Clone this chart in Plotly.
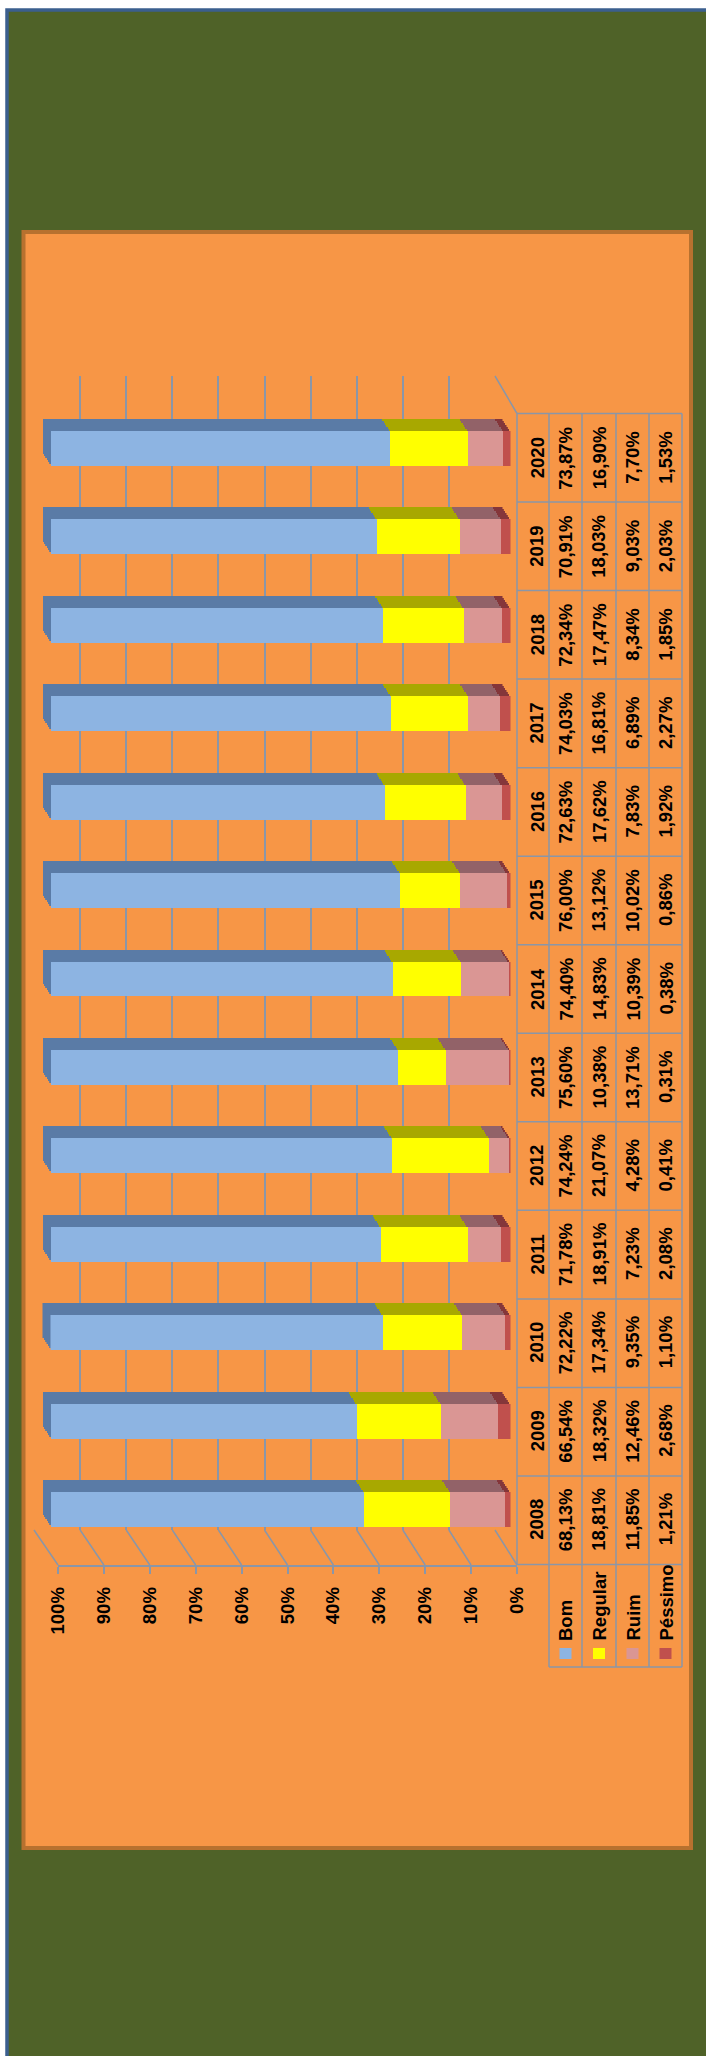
import plotly.graph_objects as go

# ---------------- data ----------------
years = ['2008', '2009', '2010', '2011', '2012', '2013', '2014',
         '2015', '2016', '2017', '2018', '2019', '2020']
bom = [68.13, 66.54, 72.22, 71.78, 74.24, 75.60, 74.40, 76.00, 72.63, 74.03, 72.34, 70.91, 73.87]
regular = [18.81, 18.32, 17.34, 18.91, 21.07, 10.38, 14.83, 13.12, 17.62, 16.81, 17.47, 18.03, 16.90]
ruim = [11.85, 12.46, 9.35, 7.23, 4.28, 13.71, 10.39, 10.02, 7.83, 6.89, 8.34, 9.03, 7.70]
pessimo = [1.21, 2.68, 1.10, 2.08, 0.41, 0.31, 0.38, 0.86, 1.92, 2.27, 1.85, 2.03, 1.53]
series_names = ['Bom', 'Regular', 'Ruim', 'Péssimo']
pct_ticks = [0, 10, 20, 30, 40, 50, 60, 70, 80, 90, 100]
pct_labels = ['0%', '10%', '20%', '30%', '40%', '50%', '60%', '70%', '80%', '90%', '100%']

series_vals = [bom, regular, ruim, pessimo]
front_colors = ['#8DB4E2', '#FFFF00', '#DA9694', '#C0504D']
top_colors = ['#5A7BA6', '#A8A800', '#926268', '#84363A']

# ---------------- geometry (pixels) ----------------
W, H = 706, 2056
LINE = '#8A96A8'
FONT = dict(family='Liberation Sans, Arial, sans-serif', size=18.5, color='black', weight='bold')


def fx(px):
    return px / W


def fy(py):
    return 1 - py / H


def dom_x(a, b):
    return [fx(a), fx(b)]


def dom_y(top, bottom):
    return [fy(bottom), fy(top)]


FRONT_X = (50.5, 510.5)
FRONT_Y = (404, 1554)
DEPTH_DX, DEPTH_DY = -8, -12
NLAYERS = 6
BACK_X = (34, 495)
BACK_Y = (376, 1530)
FLOOR_X = (58, 517)
FLOOR_Y = 1565
TABLE_TOP, TABLE_BOT = 413.5, 1564.5
COLS = [517, 549, 582, 616, 649, 682]
LEGEND_BOT = 1667

fig = go.Figure()
layout_axes = {}

# back wall gridlines (axis 1)
fig.add_trace(go.Scatter(x=[0, 100], y=[0, 1], mode='markers', marker=dict(opacity=0),
                         hoverinfo='skip', showlegend=False, xaxis='x', yaxis='y'))
layout_axes['xaxis'] = dict(domain=dom_x(*BACK_X), range=[100, 0], showgrid=True, gridcolor=LINE,
                            gridwidth=1.5, tickvals=pct_ticks, showticklabels=False, zeroline=False,
                            showline=False, ticks='', anchor='y')
layout_axes['yaxis'] = dict(domain=dom_y(*BACK_Y), range=[0, 1], showgrid=False, showticklabels=False,
                            zeroline=False, showline=False, anchor='x')

# depth layers (axes 2..7, deepest first), front face (axis 8)
ax_id = 2
for k in list(range(NLAYERS, 0, -1)) + [0]:
    t = k / NLAYERS
    dx, dy = DEPTH_DX * t, DEPTH_DY * t
    colors = front_colors if k == 0 else top_colors
    xa, ya = f'x{ax_id}', f'y{ax_id}'
    for name, vals, col in zip(series_names[::-1], series_vals[::-1], colors[::-1]):
        fig.add_trace(go.Bar(x=vals, y=years, orientation='h', name=name,
                             marker=dict(color=col, line=dict(width=0)),
                             xaxis=xa, yaxis=ya, showlegend=False, hoverinfo='skip'))
    layout_axes[f'xaxis{ax_id}'] = dict(domain=dom_x(FRONT_X[0] + dx, FRONT_X[1] + dx), range=[100, 0],
                                        visible=False, anchor=ya)
    layout_axes[f'yaxis{ax_id}'] = dict(domain=dom_y(FRONT_Y[0] + dy, FRONT_Y[1] + dy), type='category',
                                        categoryorder='array', categoryarray=years, range=[-0.5, 12.5],
                                        visible=False, anchor=xa)
    ax_id += 1
FRONT_AX = ax_id - 1  # 8

# floor axis with tick labels (axis 9)
fig.add_trace(go.Scatter(x=[0, 100], y=[0, 1], mode='markers', marker=dict(opacity=0),
                         hoverinfo='skip', showlegend=False, xaxis='x9', yaxis='y9'))
layout_axes['xaxis9'] = dict(domain=dom_x(*FLOOR_X), range=[100, 0], anchor='y9', side='bottom',
                             showline=True, linecolor=LINE, linewidth=1.5, ticks='outside', ticklen=7,
                             tickwidth=1.5, tickcolor=LINE, tickvals=pct_ticks, ticktext=pct_labels,
                             tickangle=-90, tickfont=FONT, showgrid=False, zeroline=False,
                             ticklabelstandoff=6, automargin=False)
layout_axes['yaxis9'] = dict(domain=dom_y(FLOOR_Y - 20, FLOOR_Y), range=[0, 1], visible=False, anchor='x9')

# ---------------- shapes ----------------
shapes = []


def line(x0, y0, x1, y1, color=LINE, width=1.5):
    shapes.append(dict(type='line', xref='paper', yref='paper', x0=fx(x0), y0=fy(y0), x1=fx(x1), y1=fy(y1),
                       line=dict(color=color, width=width), layer='below'))


# page background and chart area
shapes.append(dict(type='rect', xref='paper', yref='paper', x0=fx(7), y0=fy(10), x1=fx(W + 10), y1=fy(H + 10),
                   fillcolor='#4F6228', line=dict(color='#3B5F8E', width=3.5), layer='below'))
shapes.append(dict(type='rect', xref='paper', yref='paper', x0=fx(23.5), y0=fy(232), x1=fx(691), y1=fy(1848),
                   fillcolor='#F79646', line=dict(color='#B7712F', width=4), layer='below'))

# floor diagonals
for v in pct_ticks:
    bx = BACK_X[1] - v / 100 * (BACK_X[1] - BACK_X[0])
    fxp = FLOOR_X[1] - v / 100 * (FLOOR_X[1] - FLOOR_X[0])
    line(bx, BACK_Y[1], fxp, FLOOR_Y)
# side wall
line(BACK_X[1], BACK_Y[0], COLS[0], TABLE_TOP)

# data table grid
row_h = (TABLE_BOT - TABLE_TOP) / len(years)
line(COLS[0], TABLE_TOP, COLS[0], TABLE_BOT)
for c in COLS[1:]:
    line(c, TABLE_TOP, c, LEGEND_BOT)
for i in range(len(years) + 1):
    y = TABLE_TOP + i * row_h
    line(COLS[0], y, COLS[-1], y)
line(COLS[1], LEGEND_BOT, COLS[-1], LEGEND_BOT)

# legend keys
for j, col in enumerate(front_colors):
    cx = (COLS[j + 1] + COLS[j + 2]) / 2
    shapes.append(dict(type='rect', xref='paper', yref='paper', x0=fx(cx - 6), x1=fx(cx + 6),
                       y0=fy(1659), y1=fy(1648), fillcolor=col, line=dict(width=0), layer='above'))

# ---------------- annotations (table text) ----------------
annotations = []
for i, yr in enumerate(years):
    annotations.append(dict(x=fx(537), y=i, xref='paper', yref=f'y{FRONT_AX}', yshift=-10,
                            text=yr, textangle=-90, showarrow=False, font=FONT,
                            xanchor='center', yanchor='middle'))
for j, vals in enumerate(series_vals):
    cx = (COLS[j + 1] + COLS[j + 2]) / 2
    for i, v in enumerate(vals):
        annotations.append(dict(x=fx(cx), y=i, xref='paper', yref=f'y{FRONT_AX}', yshift=-10,
                                text=f'{v:.2f}'.replace('.', ',') + '%', textangle=-90, showarrow=False,
                                font=FONT, xanchor='center', yanchor='middle'))
    annotations.append(dict(x=fx(cx), y=fy(1643), xref='paper', yref='paper', text=series_names[j],
                            textangle=-90, showarrow=False, font=FONT, xanchor='center', yanchor='bottom'))

fig.update_layout(
    width=W, height=H,
    margin=dict(l=0, r=0, t=0, b=0, pad=0, autoexpand=False),
    paper_bgcolor='white', plot_bgcolor='rgba(0,0,0,0)',
    barmode='stack', bargap=0.605, showlegend=False,
    shapes=shapes, annotations=annotations,
    **layout_axes,
)

fig.write_html('out.html', config={'displayModeBar': False},
               post_script="document.body.style.margin='0px';")
